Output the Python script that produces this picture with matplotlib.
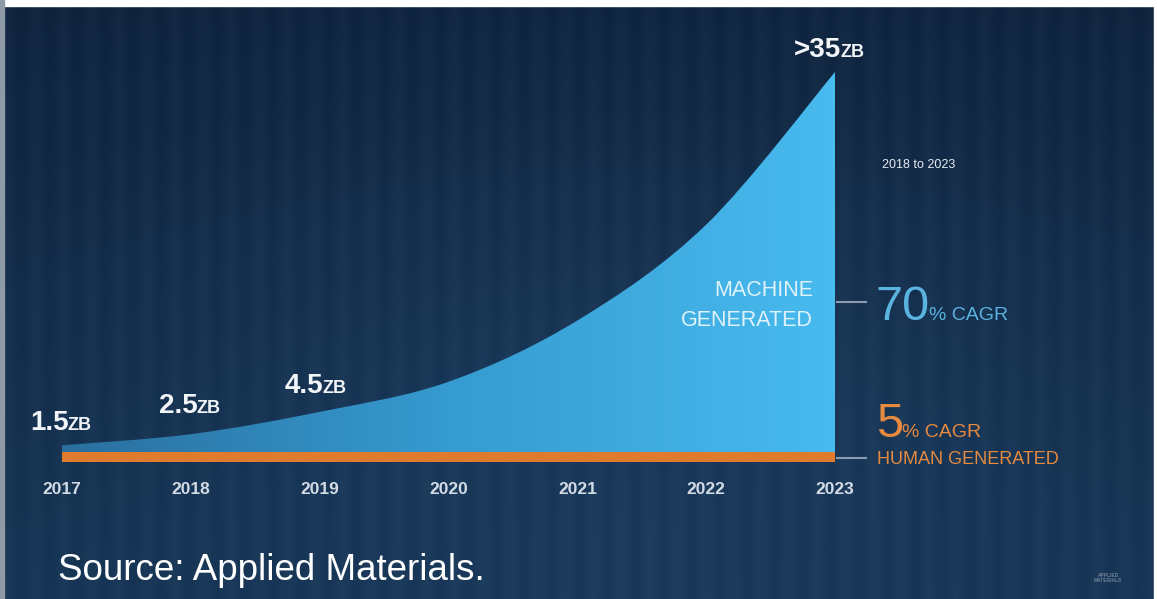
import numpy as np
import matplotlib
matplotlib.use("Agg")
import matplotlib.pyplot as plt
from matplotlib.colors import LinearSegmentedColormap
from matplotlib.patches import PathPatch, Rectangle
from matplotlib.path import Path

# data volume created per year (ZB)
years = [2017, 2018, 2019, 2020, 2021, 2022, 2023]
machine = [1.5, 2.5, 4.5, 7.2, 12.7, 21.3, 35.0]
human = [0.9, 0.9, 0.9, 0.9, 0.9, 0.9, 0.9]
value_labels = ["1.5", "2.5", "4.5", ">35"]
value_years = [2017, 2018, 2019, 2023]

W, H = 1157, 599
fig = plt.figure(figsize=(W / 100, H / 100), dpi=100)
ax = fig.add_axes([0, 0, 1, 1])

# axis limits chosen so the years / ZB land in the right pixel spots
px_year = (835 - 62) / 6
px_zb = (462 - 72) / 35
x0, x1 = 2017 - 62 / px_year, 2017 + (W - 62) / px_year
y0, y1 = -(H - 462) / px_zb, 462 / px_zb
ax.set_xlim(x0, x1)
ax.set_ylim(y0, y1)
ax.axis("off")

# navy backdrop, a little lighter towards the lower middle
gy, gx = np.mgrid[0:1:300j, 0:1:600j]
glow = np.exp(-((gx - 0.55) ** 2 / 0.18 + (gy - 0.75) ** 2 / 0.25))
top = np.array([0x10, 0x24, 0x3e]) / 255
bot = np.array([0x17, 0x35, 0x55]) / 255
light = np.array([0x22, 0x45, 0x68]) / 255
bg = top + (bot - top) * gy[..., None]
bg = bg + (light - bg) * (0.45 * glow[..., None])
streaks = 0.010 * np.sin(gx * 260)[..., None]
bg = np.clip(bg + streaks, 0, 1)
ax.imshow(bg, extent=[x0, x1, y0, y1], origin="upper", aspect="auto", zorder=0)

# smooth outline through the yearly values (cubic Bezier, Catmull-Rom tangents)
xs, ys = np.array(years, float), np.array(machine, float)
verts, codes = [(xs[0], human[0]), (xs[0], ys[0])], [Path.MOVETO, Path.LINETO]
for i in range(len(xs) - 1):
    xa, xb = xs[max(i - 1, 0)], xs[min(i + 2, len(xs) - 1)]
    ya, yb = ys[max(i - 1, 0)], ys[min(i + 2, len(ys) - 1)]
    c1 = (xs[i] + (xs[i + 1] - xa) / 6, ys[i] + (ys[i + 1] - ya) / 6)
    c2 = (xs[i + 1] - (xb - xs[i]) / 6, ys[i + 1] - (yb - ys[i]) / 6)
    verts += [c1, c2, (xs[i + 1], ys[i + 1])]
    codes += [Path.CURVE4] * 3
verts += [(xs[-1], human[-1]), (xs[0], human[0])]
codes += [Path.LINETO, Path.CLOSEPOLY]
area = PathPatch(Path(verts, codes), facecolor="none", edgecolor="none")
ax.add_patch(area)

# machine generated area with a left-to-right blue gradient
blue = LinearSegmentedColormap.from_list("blue", ["#2a6f9e", "#369bd0", "#48bbef"])
grad = np.linspace(0, 1, 256)[None, :]
im = ax.imshow(grad, cmap=blue, extent=[years[0], years[-1], 0, max(machine)],
               aspect="auto", zorder=2)
im.set_clip_path(area)

# human generated band
ax.fill_between(years, 0, human, color="#e07a2c", lw=0, zorder=3)

def fpx(x, y):
    return x / W, 1 - y / H

def two_part(x, y, big, small, color, big_size, small_size, weight="bold"):
    t = fig.text(*fpx(x, y), big, color=color, fontsize=big_size, fontweight=weight,
                 family="Liberation Sans", va="baseline", ha="left")
    bb = t.get_window_extent(renderer=fig.canvas.get_renderer())
    fig.text((bb.x1 - 1) / W, 1 - y / H, small, color=color, fontsize=small_size,
             fontweight="bold" if weight == "bold" else "normal",
             family="Liberation Sans", va="baseline", ha="left")

label_pos = {2017: (30, 430), 2018: (159, 413), 2019: (285, 393), 2023: (794, 57)}
for yr, txt in zip(value_years, value_labels):
    lx, ly = label_pos[yr]
    two_part(lx, ly, txt, "ZB", "#f2f5f8", 20, 13)

for yr in years:
    ax.text(yr, y0 + (H - 490) / px_zb, str(yr), color="#d3dce6", fontsize=12.5,
            fontweight="bold", family="Liberation Sans", ha="center", va="center", zorder=5)

fig.text(*fpx(919, 165), "2018 to 2023", color="#e6ebf0", fontsize=9,
         family="Liberation Sans", ha="center", va="center")

fig.text(*fpx(813, 290), "MACHINE", color="#dff2fb", fontsize=15.5,
         family="Liberation Sans", ha="right", va="center")
fig.text(*fpx(813, 321), "GENERATED", color="#dff2fb", fontsize=15.5,
         family="Liberation Sans", ha="right", va="center")

two_part(876, 320, "70", "% CAGR", "#5bb4df", 35, 14, weight="normal")
two_part(876, 437, "5", "% CAGR", "#e68a3f", 35, 14, weight="normal")
fig.text(*fpx(877, 459), "HUMAN GENERATED", color="#e68a3f", fontsize=13,
         family="Liberation Sans", ha="left", va="center")

# leader ticks from the area edge to the callouts
for yy in (302, 458):
    fig.add_artist(plt.Line2D([837 / W, 866 / W], [1 - yy / H] * 2,
                              color="#8b9cb0", lw=1.5))

fig.text(*fpx(58, 570), "Source: Applied Materials.", color="white", fontsize=26.5,
         family="Liberation Sans", ha="left", va="center")
fig.text(*fpx(1108, 578), "APPLIED\nMATERIALS", color="#6f8196", fontsize=3.5,
         family="Liberation Sans", fontweight="bold", ha="center", va="center",
         linespacing=0.9)

# page edges
fig.add_artist(Rectangle((0, 1 - 6 / H), 1, 6 / H, transform=fig.transFigure,
                         color="white", zorder=10))
fig.add_artist(Rectangle((0, 0), 4 / W, 1, transform=fig.transFigure,
                         color="#8e9aa6", zorder=10))
fig.add_artist(Rectangle((1 - 3 / W, 0), 3 / W, 1, transform=fig.transFigure,
                         color="white", zorder=10))

fig.savefig("out.png", dpi=100)
